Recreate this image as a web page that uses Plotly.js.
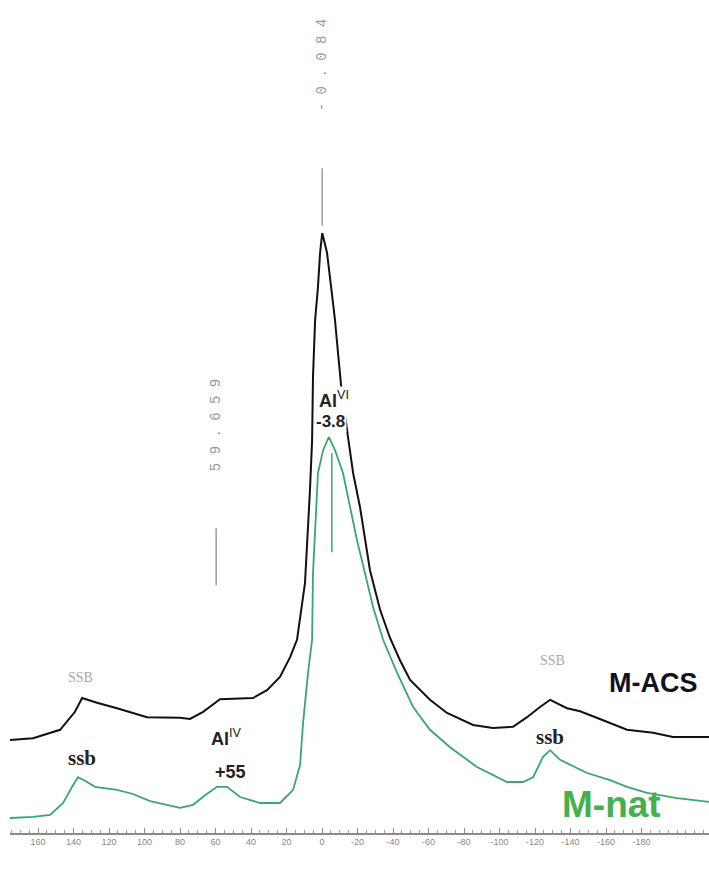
<!DOCTYPE html>
<html>
<head>
<meta charset="utf-8">
<script src="https://cdn.plot.ly/plotly-3.0.1.min.js"></script>
<style>html,body{margin:0;padding:0;background:#fff;}#chart{width:709px;height:877px;}</style>
</head>
<body>
<div id="chart"></div>
<script>
// Chemical shift (ppm) and relative intensity
const ppmACS = [175.8,162.8,147.6,139.2,135.2,126.8,115.5,98.6,80.0,74.4,67.0,57.5,38.9,31.0,23.7,18.0,14.1,9.6,6.8,5.6,5.1,3.9,2.3,1.1,-0.1,-2.8,-5.1,-7.3,-9.0,-10.7,-14.6,-17.5,-21.4,-24.2,-27.0,-32.7,-38.3,-43.9,-49.6,-60.8,-70.4,-85.1,-96.3,-107.6,-115.5,-122.8,-128.5,-138.0,-145.4,-158.3,-171.8,-186.5,-197.7,-218.0];
const intACS = [15.5,15.8,17.2,20.2,22.5,21.7,20.8,19.3,19.2,19.0,20.2,22.3,22.5,23.8,26.0,29.3,32.2,41.7,57.2,65.5,76.0,85.5,91.0,96.7,100.0,96.7,91.0,85.5,80.0,74.7,66.0,60.0,54.3,48.8,43.8,37.2,32.5,28.8,25.5,22.2,20.0,18.0,17.5,17.7,19.3,21.0,22.2,20.8,20.3,18.8,17.2,16.7,16.0,16.0];

const ppmNat = [175.8,162.8,153.2,145.9,140.8,137.5,133.5,127.9,115.5,106.5,96.9,80.0,72.7,65.9,59.2,53.5,46.2,34.9,23.7,16.3,12.4,10.7,7.9,5.6,5.1,3.9,2.3,-0.6,-3.8,-7.3,-11.8,-15.8,-19.7,-24.2,-28.7,-34.4,-42.3,-51.3,-60.8,-72.1,-87.3,-104.2,-113.2,-118.9,-124.5,-128.5,-134.1,-149.3,-162.3,-171.8,-183.1,-200.0,-218.0];
const intNat = [2.5,2.7,3.0,5.0,7.7,9.3,8.7,7.7,7.2,6.5,5.3,4.2,4.7,6.3,7.7,7.7,6.0,5.0,5.0,7.2,11.3,18.3,26.7,32.2,43.3,51.7,60.0,63.8,66.0,63.8,60.0,54.3,48.8,43.3,37.7,32.2,26.7,21.0,17.2,14.3,11.0,8.5,8.5,9.3,12.7,13.8,12.2,10.0,8.8,7.7,6.7,5.8,5.2];

// Peak-pick markers
const pickPpm = [-0.084, 59.659];
const pickLabels = ['- 0 . 0 8 4', '5 9 . 6 5 9'];
const pickLow = [101.2, 41.3];
const pickHigh = [110.8, 50.8];
const pickTextInt = [128.0, 68.0];
const natMarkPpm = [-5.5, -5.5];
const natMarkInt = [46.8, 63.3];

// Axis ticks
const tickVals = [160,140,120,100,80,60,40,20,0,-20,-40,-60,-80,-100,-120,-140,-160,-180];
const tickText = ['160','140','120','100','80','60','40','20','0','-20','-40','-60','-80','-100','-120','-140','-160','-180'];

const traces = [
  {x: ppmACS, y: intACS, mode: 'lines', line: {color: '#111111', width: 2}, hoverinfo: 'skip'},
  {x: ppmNat, y: intNat, mode: 'lines', line: {color: '#3aa86c', width: 1.8}, hoverinfo: 'skip'},
  {x: natMarkPpm, y: natMarkInt, mode: 'lines', line: {color: '#3aa86c', width: 1.5}, hoverinfo: 'skip'}
];
pickPpm.forEach((p, i) => {
  traces.push({x: [p, p], y: [pickLow[i], pickHigh[i]], mode: 'lines', line: {color: '#9a9a9a', width: 1.5}, hoverinfo: 'skip'});
});

const ann = [];
pickPpm.forEach((p, i) => {
  ann.push({x: p, y: pickTextInt[i], xref: 'x', yref: 'y', text: pickLabels[i], showarrow: false, textangle: -90,
    font: {family: 'Liberation Mono, monospace', size: 14, color: '#9a9a9a'}});
});
const serif = 'Liberation Serif, Times New Roman, serif';
const sans = 'Liberation Sans, Arial, sans-serif';
ann.push(
  {x: 136.3, y: 26.0, text: 'SSB', font: {family: serif, size: 14, color: '#a8a8a8'}},
  {x: -129.6, y: 28.7, text: 'SSB', font: {family: serif, size: 14, color: '#a8a8a8'}},
  {x: 135.2, y: 12.5, text: '<b>ssb</b>', font: {family: serif, size: 21, color: '#222'}},
  {x: -128.5, y: 16.0, text: '<b>ssb</b>', font: {family: serif, size: 21, color: '#222'}},
  {x: 54.1, y: 16.0, text: '<b>Al</b><sup>IV</sup>', font: {family: sans, size: 18, color: '#222'}},
  {x: 51.8, y: 10.2, text: '<b>+55</b>', font: {family: sans, size: 18, color: '#222'}},
  {x: -6.8, y: 72.2, text: '<b>Al</b><sup>VI</sup>', font: {family: sans, size: 18, color: '#222'}, bgcolor: '#ffffff'},
  {x: -4.5, y: 68.5, text: '<b>-3.8</b>', font: {family: sans, size: 17, color: '#222'}, bgcolor: '#ffffff'},
  {x: -186.5, y: 25.0, text: '<b>M-ACS</b>', font: {family: sans, size: 27, color: '#111122'}},
  {x: -162.8, y: 4.7, text: '<b>M-nat</b>', font: {family: sans, size: 37, color: '#45b04e'}},
  {x: -202.2, y: -4.2, text: '<b>ppm</b>', font: {family: serif, size: 28, color: '#111'}}
);
ann.forEach(a => { if (!a.xref) { a.xref = 'x'; a.yref = 'y'; a.showarrow = false; } });

const layout = {
  width: 709, height: 877,
  margin: {l: 10, r: 0, t: 0, b: 44},
  paper_bgcolor: '#ffffff', plot_bgcolor: '#ffffff',
  showlegend: false,
  xaxis: {
    range: [175.8, -218.0], showgrid: false, zeroline: false,
    showline: true, linecolor: '#8a8a8a', linewidth: 1.5,
    tickmode: 'array', tickvals: tickVals, ticktext: tickText,
    ticks: 'inside', ticklen: 5, tickcolor: '#8a8a8a', tickwidth: 1,
    minor: {dtick: 5, tick0: 0, ticks: 'inside', ticklen: 3, tickcolor: '#9a9a9a', showgrid: false},
    tickfont: {family: sans, size: 9, color: '#888'}
  },
  yaxis: {range: [0, 138.83], visible: false, showgrid: false, zeroline: false},
  annotations: ann
};

Plotly.newPlot('chart', traces, layout, {staticPlot: true, displayModeBar: false});
</script>
</body>
</html>
